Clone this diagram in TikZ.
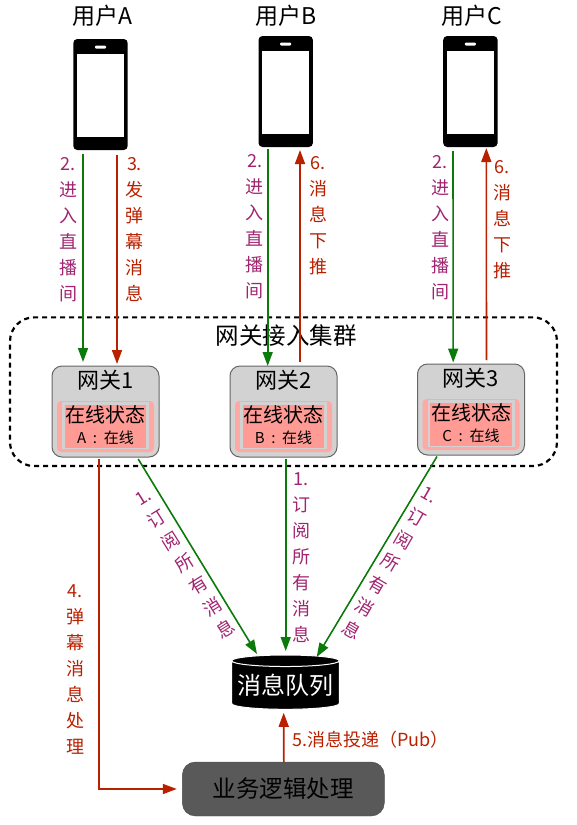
\documentclass[tikz,border=0pt]{standalone}
\usepackage{fontspec}
\setmainfont{Noto Sans CJK SC}
\usepackage{xcolor}
\usepackage{tikz}
\usetikzlibrary{arrows.meta,positioning,shapes.geometric}
\definecolor{arrgreen}{HTML}{0B7A0B}
\definecolor{arrred}{HTML}{B82000}
\definecolor{textpurple}{HTML}{A02470}
\definecolor{gatefill}{HTML}{D2D2D2}
\definecolor{statepink}{HTML}{FF9A94}
\definecolor{logicfill}{HTML}{595959}

\begin{document}
\begin{tikzpicture}[
  x=1pt, y=1pt,
  every node/.style={inner sep=0pt, outer sep=0pt},
  phonebody/.style={draw=none, fill=black, rounded corners=4pt, minimum width=54.4pt, minimum height=111pt},
  phonescreen/.style={fill=white, minimum width=47pt, minimum height=82.7pt},
  phonespeaker/.style={fill=white, rounded corners=1pt, minimum width=11pt, minimum height=3pt},
  usertag/.style={font=\fontsize{23}{26}\selectfont},
  gatebox/.style={draw=black!60, line width=1pt, fill=gatefill, rounded corners=10pt, minimum width=107pt, minimum height=91pt},
  gatetag/.style={font=\fontsize{22}{26}\selectfont},
  stateout/.style={fill=statepink!85!white, rounded corners=4pt, minimum width=97pt, minimum height=51pt},
  statemid/.style={fill=gatefill, minimum width=87pt, minimum height=47pt},
  statein/.style={fill=statepink, minimum width=81.5pt, minimum height=43pt},
  statetag/.style={font=\fontsize{20}{24}\selectfont},
  statesub/.style={font=\fontsize{15}{18}\selectfont},
  grouptag/.style={font=\fontsize{23.5}{26}\selectfont},
  stepgreen/.style={text=textpurple, align=center, font=\fontsize{18}{26}\selectfont},
  stepred/.style={text=arrred, align=center, font=\fontsize{18}{26}\selectfont},
  greenarr/.style={-{Triangle[length=14pt,width=10pt]}, line width=1.6pt, arrgreen},
  redarr/.style={-{Triangle[length=14pt,width=10pt]}, line width=1.6pt, arrred}
]
  \useasboundingbox (0,0) rectangle (577,-825);

  \node[draw, line width=2.2pt, dash pattern=on 5pt off 4pt, rounded corners=24pt, minimum width=547pt, minimum height=148.7pt] (cluster) at (283.5,-391.7) {};
  \node[grouptag] (clustertag) at (286,-336) {网关接入集群};

  \node[phonebody] (phoneA) at (100.5,-94.5) {};
  \node[phonebody, right=130.8pt of phoneA, yshift=3pt] (phoneB) {};
  \node[phonebody, right=130.3pt of phoneB] (phoneC) {};
  \node[phonescreen, below=15pt of phoneA.north] (screenA) {};
  \node[phonescreen, below=15pt of phoneB.north] (screenB) {};
  \node[phonescreen, below=15pt of phoneC.north] (screenC) {};
  \node[phonespeaker, below=6.5pt of phoneA.north] (speakerA) {};
  \node[phonespeaker, below=6.5pt of phoneB.north] (speakerB) {};
  \node[phonespeaker, below=6.5pt of phoneC.north] (speakerC) {};
  \node[usertag, above=13pt of phoneA, xshift=1.5pt] (userA) {用户A};
  \node[usertag, above=10pt of phoneB] (userB) {用户B};
  \node[usertag, above=10pt of phoneC, xshift=1.5pt] (userC) {用户C};

  \node[gatebox, below=216pt of phoneA, xshift=5pt] (gate1) {};
  \node[gatebox, right=71pt of gate1] (gate2) {};
  \node[gatebox, right=80.5pt of gate2, yshift=2pt] (gate3) {};
  \node[gatetag, below=4pt of gate1.north] (gatetag1) {网关1};
  \node[gatetag, below=4pt of gate2.north] (gatetag2) {网关2};
  \node[gatetag, below=4pt of gate3.north] (gatetag3) {网关3};

  \node[stateout, above=5pt of gate1.south] (stateoutA) {};
  \node[statemid, above=8pt of gate1.south] (statemidA) {};
  \node[statein, above=9pt of gate1.south] (stateinA) {};
  \node[statetag, below=1pt of stateinA.north] (statetagA) {在线状态};
  \node[statesub, above=3pt of stateinA.south] (statesubA) {A~~:~~在线};

  \node[stateout, above=5pt of gate2.south] (stateoutB) {};
  \node[statemid, above=8pt of gate2.south] (statemidB) {};
  \node[statein, above=9pt of gate2.south] (stateinB) {};
  \node[statetag, below=1pt of stateinB.north] (statetagB) {在线状态};
  \node[statesub, above=3pt of stateinB.south] (statesubB) {B~~:~~在线};

  \node[stateout, above=5pt of gate3.south] (stateoutC) {};
  \node[statemid, above=8pt of gate3.south] (statemidC) {};
  \node[statein, above=9pt of gate3.south] (stateinC) {};
  \node[statetag, below=1pt of stateinC.north] (statetagC) {在线状态};
  \node[statesub, above=3pt of stateinC.south] (statesubC) {C~~:~~在线};

  \node[cylinder, shape border rotate=90, aspect=0.12, draw=white, line width=1pt, cylinder uses custom fill, cylinder body fill=black, cylinder end fill=black, minimum width=107.6pt, minimum height=54.3pt, text=white, font=\fontsize{24}{26}\selectfont, below=198pt of gate2, xshift=2pt] (queue) {消息队列};
  \node[draw=black!70, fill=logicfill, rounded corners=13pt, minimum width=202pt, minimum height=54pt, font=\fontsize{23.5}{26}\selectfont, below=52.7pt of queue, xshift=-2.2pt] (logic) {业务逻辑处理};

  \node[stepgreen, below=7pt of phoneA, xshift=-32.5pt] (enterA) {2.\\进\\入\\直\\播\\间};
  \node[stepred, below=7pt of phoneA, xshift=34pt] (sendA) {3.\\发\\弹\\幕\\消\\息};
  \node[stepgreen, below=7pt of phoneB, xshift=-31pt] (enterB) {2.\\进\\入\\直\\播\\间};
  \node[stepred, below=9pt of phoneB, xshift=32.6pt] (pushB) {6.\\消\\息\\下\\推};
  \node[stepgreen, below=8pt of phoneC, xshift=-30.4pt] (enterC) {2.\\进\\入\\直\\播\\间};
  \node[stepred, below=13pt of phoneC, xshift=32pt] (pushC) {6.\\消\\息\\下\\推};

  \node[stepgreen, rotate=32] (subA) at (185,-564) {1.\\订\\阅\\所\\有\\消\\息};
  \node[stepgreen] (subB) at (301,-558) {1.\\订\\阅\\所\\有\\消\\息};
  \node[stepgreen, rotate=-30] (subC) at (390,-563) {1.\\订\\阅\\所\\有\\消\\息};
  \node[stepred] (dealA) at (75,-669) {4.\\弹\\幕\\消\\息\\处\\理};
  \node[text=arrred, font=\fontsize{18}{26}\selectfont] (pubtag) at (370.5,-740) {5.消息投递（Pub）};

  \draw[greenarr] ([xshift=-17.5pt,yshift=-4pt]phoneA.south) -- ([xshift=-22.5pt,yshift=4pt]gate1.north);
  \draw[redarr] ([xshift=16.5pt,yshift=-5pt]phoneA.south) -- ([xshift=11.5pt,yshift=2pt]gate1.north);
  \draw[greenarr] ([xshift=-18pt,yshift=-2pt]phoneB.south) -- ([xshift=-15.8pt]gate2.north);
  \draw[redarr] ([xshift=16.5pt,yshift=4pt]gate2.north) -- ([xshift=14.3pt,yshift=-3pt]phoneB.south);
  \draw[greenarr] ([xshift=-17.4pt,yshift=-4pt]phoneC.south) -- ([xshift=-17.8pt,yshift=1.5pt]gate3.north);
  \draw[redarr] ([xshift=15.5pt,yshift=4pt]gate3.north) -- ([xshift=15.9pt,yshift=-1pt]phoneC.south);

  \draw[greenarr] ([xshift=32.7pt,yshift=-2pt]gate1.south) -- ([xshift=-28.5pt,yshift=1pt]queue.north);
  \draw[greenarr] ([xshift=2.2pt,yshift=-2pt]gate2.south) -- ([xshift=0.2pt,yshift=4pt]queue.north);
  \draw[greenarr] ([xshift=-34pt,yshift=-1.5pt]gate3.south) -- ([xshift=31.2pt,yshift=-2pt]queue.north);

  \draw[redarr] ([xshift=-6.5pt,yshift=-2pt]gate1.south) |- ([xshift=-5.5pt]logic.west);
  \draw[redarr] ([xshift=0.5pt]logic.north) -- ([xshift=-1.8pt,yshift=-3.5pt]queue.south);
\end{tikzpicture}
\end{document}
